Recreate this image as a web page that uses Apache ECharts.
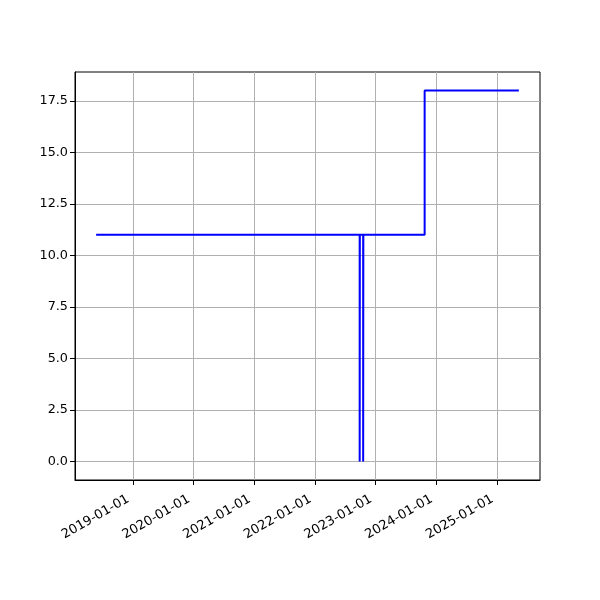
<!DOCTYPE html>
<html><head><meta charset="utf-8">
<script src="https://cdn.jsdelivr.net/npm/echarts@6/dist/echarts.min.js"></script>
<style>html,body{margin:0;padding:0;background:#fff}#c{width:600px;height:600px}</style>
</head><body><div id="c"></div>
<script>
const dates = ['2018-05-25','2022-09-27','2022-09-28','2022-10-18','2022-10-19','2023-10-23','2025-05-12'];
const values = [11, 0, 11, 0, 11, 18, 18];
const yTicks = [0, 2.5, 5, 7.5, 10, 12.5, 15, 17.5];
const xTickDates = ['2019-01-01','2020-01-01','2021-01-01','2022-01-01','2023-01-01','2024-01-01','2025-01-01'];

const ts = dates.map(d => Date.parse(d + 'T00:00:00Z'));
const tMin = Math.min(...ts), tMax = Math.max(...ts);
const tPad = (tMax - tMin) * 0.05;
const vMin = Math.min(...values), vMax = Math.max(...values);
const vPad = (vMax - vMin) * 0.05;
const xTicks = xTickDates.map(d => Date.parse(d + 'T00:00:00Z'));

const chart = echarts.init(document.getElementById('c'), null, {renderer: 'canvas'});
chart.setOption({
  animation: false,
  grid: {left: 75, right: 60, top: 72, bottom: 120, show: true, borderColor: '#000', borderWidth: 1, containLabel: false},
  xAxis: {
    type: 'value', min: tMin - tPad, max: tMax + tPad,
    axisLine: {show: true, onZero: false, lineStyle: {color: '#000', width: 1}},
    axisTick: {show: true, customValues: xTicks, length: 5, lineStyle: {color: '#000', width: 1}},
    axisLabel: {customValues: xTicks, rotate: 30, margin: 8, verticalAlign: 'top', padding: [0, 9, 0, 0],
      fontFamily: 'DejaVu Sans', fontSize: 13, color: '#000',
      formatter: v => new Date(v).toISOString().slice(0, 10)},
    splitLine: {show: true, lineStyle: {color: '#b0b0b0', width: 1}}
  },
  yAxis: {
    type: 'value', min: vMin - vPad, max: vMax + vPad,
    axisLine: {show: true, onZero: false, lineStyle: {color: '#000', width: 1}},
    axisTick: {show: true, customValues: yTicks, length: 5, lineStyle: {color: '#000', width: 1}},
    axisLabel: {customValues: yTicks, margin: 7, fontFamily: 'DejaVu Sans', fontSize: 12.8, color: '#000',
      formatter: v => v.toFixed(1)},
    splitLine: {show: true, lineStyle: {color: '#b0b0b0', width: 1}}
  },
  series: [{
    type: 'line', step: 'end', showSymbol: false, symbol: 'none',
    data: ts.map((t, i) => [t, values[i]]),
    lineStyle: {color: '#0000ff', width: 2}
  }]
});
</script></body></html>
